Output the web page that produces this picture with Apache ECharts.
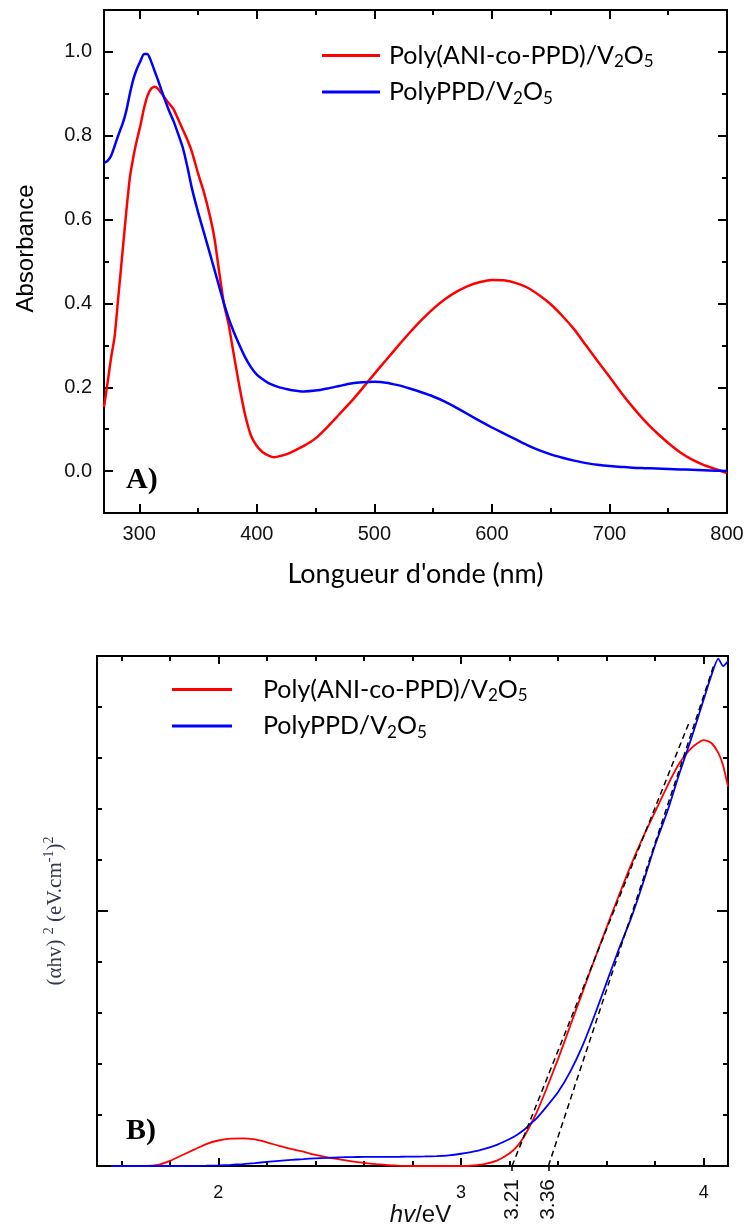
<!DOCTYPE html>
<html>
<head>
<meta charset="utf-8">
<title>Absorbance et Tauc</title>
<script src="https://cdn.jsdelivr.net/npm/echarts@6/dist/echarts.min.js"></script>
<style>
  html, body { margin: 0; padding: 0; background: #fff; }
  #chart { width: 747px; height: 1229px; }
</style>
</head>
<body>
<div id="chart"></div>
<script>
// A) spectres UV-vis
const wavelength = [
  270, 273, 276, 279, 282, 286, 289, 292, 295, 298,
  301, 304, 307, 310, 313, 316, 320, 325, 329, 333,
  337, 341, 345, 350, 355, 360, 364, 368, 372, 376,
  380, 385, 390, 395, 400, 405, 410, 415, 420, 425,
  430, 440, 450, 460, 470, 480, 490, 500, 510, 520,
  530, 540, 550, 560, 570, 580, 590, 600, 610, 620,
  630, 640, 650, 660, 670, 680, 690, 700, 710, 720,
  730, 740, 750, 760, 770, 780, 790, 800
]
const absCopolymer = [
  0.153, 0.21, 0.27, 0.32, 0.41, 0.53, 0.62, 0.70, 0.75, 0.79,
  0.825, 0.865, 0.895, 0.912, 0.917, 0.912, 0.897, 0.878, 0.864, 0.84,
  0.815, 0.79, 0.76, 0.71, 0.665, 0.61, 0.555, 0.475, 0.40, 0.35,
  0.285, 0.205, 0.135, 0.085, 0.06, 0.045, 0.037, 0.033, 0.036, 0.04,
  0.046, 0.06, 0.078, 0.105, 0.135, 0.165, 0.198, 0.232, 0.265, 0.298,
  0.33, 0.36, 0.387, 0.41, 0.428, 0.442, 0.451, 0.456, 0.455, 0.449,
  0.438, 0.42, 0.398, 0.37, 0.338, 0.30, 0.262, 0.225, 0.187, 0.152,
  0.12, 0.092, 0.067, 0.045, 0.028, 0.015, 0.005, -0.005
]
const absPolyPPD = [
  0.735, 0.74, 0.752, 0.775, 0.80, 0.83, 0.86, 0.90, 0.935, 0.96,
  0.978, 0.995, 0.995, 0.978, 0.955, 0.932, 0.90, 0.862, 0.836, 0.805,
  0.772, 0.725, 0.672, 0.618, 0.569, 0.52, 0.48, 0.44, 0.40, 0.365,
  0.335, 0.302, 0.272, 0.248, 0.23, 0.219, 0.21, 0.204, 0.199, 0.196,
  0.193, 0.19, 0.192, 0.197, 0.203, 0.209, 0.212, 0.213, 0.211, 0.205,
  0.197, 0.188, 0.178, 0.166, 0.151, 0.135, 0.119, 0.104, 0.09, 0.076,
  0.062, 0.05, 0.04, 0.032, 0.025, 0.019, 0.015, 0.012, 0.01, 0.008,
  0.007, 0.006, 0.005, 0.004, 0.003, 0.002, 0.001, 0
]
const wlTicks = [300, 400, 500, 600, 700, 800]
const wlMinorTicks = [350, 450, 550, 650, 750]
const absTicks = [0, 0.2, 0.4, 0.6, 0.8, 1.0]
const absMinorTicks = [0.1, 0.3, 0.5, 0.7, 0.9]

// B) tracé de Tauc
const energy = [
  1.56, 1.6, 1.7, 1.75, 1.8, 1.85, 1.9, 1.95, 2.0, 2.05,
  2.1, 2.15, 2.2, 2.25, 2.3, 2.35, 2.4, 2.45, 2.5, 2.55,
  2.6, 2.65, 2.7, 2.75, 2.8, 2.85, 2.9, 2.95, 3.0, 3.05,
  3.1, 3.15, 3.2, 3.23, 3.26, 3.28, 3.31, 3.35, 3.4, 3.45,
  3.5, 3.55, 3.6, 3.65, 3.7, 3.75, 3.8, 3.85, 3.9, 3.95,
  4.0, 4.03, 4.06, 4.08, 4.1
]
const taucCopolymer = [
  0, 0, 0, 0.02, 0.1, 0.21, 0.32, 0.43, 0.5, 0.535,
  0.54, 0.52, 0.465, 0.395, 0.335, 0.28, 0.22, 0.17, 0.13, 0.09,
  0.06, 0.035, 0.015, 0.003, 0, 0, 0, 0, 0, 0.01,
  0.04, 0.11, 0.25, 0.38, 0.58, 0.75, 1.03, 1.49, 2.1, 2.75,
  3.4, 4.05, 4.68, 5.3, 5.9, 6.45, 6.95, 7.45, 7.9, 8.2,
  8.35, 8.3, 8.1, 7.85, 7.44
]
const taucPolyPPD = [
  0, 0, 0, 0, 0, 0, 0.002, 0.006, 0.012, 0.022,
  0.038, 0.058, 0.08, 0.1, 0.12, 0.135, 0.15, 0.16, 0.17, 0.175,
  0.178, 0.18, 0.18, 0.181, 0.183, 0.187, 0.195, 0.21, 0.24, 0.28,
  0.34, 0.42, 0.53, 0.61, 0.71, 0.8, 0.93, 1.15, 1.45, 1.85,
  2.35, 2.95, 3.6, 4.25, 4.85, 5.55, 6.3, 6.95, 7.7, 8.4,
  9.15, 9.6, 9.95, 9.8, 9.9
]
// tangentes (gap optique)
const tangentCopolymer = [[3.21, 0], [3.94, 8.7]]
const tangentPolyPPD = [[3.36, 0], [4.045, 9.87]]
const gapValues = [3.21, 3.36]
const eTicks = [2, 3, 4]
const eMinorTicks = [1.6, 1.8, 2.2, 2.4, 2.6, 2.8, 3.2, 3.4, 3.6, 3.8]
const taucTicks = [5]
const taucMinorTicks = [1, 2, 3, 4, 6, 7, 8, 9]

const NAME_CO = 'Poly(ANI-co-PPD)/V2O5'
const NAME_PPD = 'PolyPPD/V2O5'
const RED = '#ff0000'
const BLUE = '#0000ff'

const legendText = {
  [NAME_CO]: '{t|Poly(ANI-co-PPD)/V}{s|2}{t|O}{s|5}',
  [NAME_PPD]: '{t|PolyPPD/V}{s|2}{t|O}{s|5}'
}
const legendRich = {
  t: { fontFamily: 'Lato', fontSize: 25, lineHeight: 30, color: '#000' },
  s: { fontFamily: 'Lato', fontSize: 17, lineHeight: 17, color: '#000', verticalAlign: 'bottom' }
}

const zip = (xs, ys) => xs.map((x, i) => [x, ys[i]])

// axe sans ligne, seulement des graduations (le cadre vient de la grille)
function tickAxis(grid, pos, min, max, ticks, len, label) {
  return {
    type: 'value',
    gridIndex: grid,
    position: pos,
    min: min,
    max: max,
    axisLine: { show: false, onZero: false },
    splitLine: { show: false },
    axisTick: {
      show: true,
      inside: true,
      length: len,
      customValues: ticks,
      lineStyle: { color: '#000', width: 2 }
    },
    axisLabel: label || { show: false }
  }
}

const labelA = {
  show: true,
  fontFamily: 'Liberation Sans',
  fontSize: 20,
  color: '#111'
}

const xTop = tickAxis(0, 'bottom', 270, 800, wlTicks, 9,
  Object.assign({ customValues: wlTicks, margin: 11 }, labelA))
xTop.name = "Longueur d'onde (nm)"
xTop.nameLocation = 'middle'
xTop.nameGap = 48
xTop.nameTextStyle = { fontFamily: 'Lato', fontSize: 27, color: '#000' }

const yTop = tickAxis(0, 'left', -0.1, 1.1, absTicks, 9,
  Object.assign({ customValues: absTicks, margin: 12, formatter: v => v.toFixed(1) }, labelA))
yTop.name = 'Absorbance'
yTop.nameLocation = 'middle'
yTop.nameGap = 66
yTop.nameTextStyle = { fontFamily: 'Liberation Sans', fontSize: 24, color: '#000', padding: [0, 0, 0, 26] }

const xBot = tickAxis(1, 'bottom', 1.5, 4.1, eTicks, 8,
  { show: true, customValues: eTicks, margin: 18, fontFamily: 'Liberation Sans', fontSize: 18, color: '#111' })
xBot.name = '{i|hv}{n|/eV}'
xBot.nameLocation = 'middle'
xBot.nameGap = 34
xBot.nameTextStyle = {
  padding: [0, 0, 0, 16],
  rich: {
    i: { fontFamily: 'Liberation Sans', fontStyle: 'italic', fontSize: 24, color: '#111' },
    n: { fontFamily: 'Liberation Sans', fontSize: 24, color: '#111' }
  }
}

const xGap = tickAxis(1, 'bottom', 1.5, 4.1, gapValues, 5,
  { show: true, customValues: gapValues, rotate: 90, margin: 13, fontFamily: 'Liberation Sans', fontSize: 21, color: '#111', formatter: v => v.toFixed(2) })
xGap.axisTick.inside = false
xGap.axisTick.lineStyle.width = 1.5

const yBot = tickAxis(1, 'left', 0, 10, taucTicks, 11)
yBot.name = '{t|(αhv) }{s|2}{t| (eV.cm}{s|-1}{t|)}{s|2}'
yBot.nameLocation = 'middle'
yBot.nameGap = 29
yBot.nameTextStyle = {
  rich: {
    t: { fontFamily: 'Liberation Serif', fontSize: 21, lineHeight: 26, color: '#33374f' },
    s: { fontFamily: 'Liberation Serif', fontSize: 14, lineHeight: 14, color: '#33374f', verticalAlign: 'top' }
  }
}

const option = {
  animation: false,
  backgroundColor: '#fff',
  grid: [
    { left: 104, top: 10, width: 623, height: 503, show: true, borderColor: '#000', borderWidth: 2 },
    { left: 97, top: 656, width: 631, height: 510, show: true, borderColor: '#000', borderWidth: 2 }
  ],
  xAxis: [
    xTop,
    tickAxis(0, 'bottom', 270, 800, wlMinorTicks, 5),
    tickAxis(0, 'top', 270, 800, wlTicks, 9),
    tickAxis(0, 'top', 270, 800, wlMinorTicks, 5),
    xBot,
    tickAxis(1, 'bottom', 1.5, 4.1, eMinorTicks, 5),
    xGap,
    tickAxis(1, 'top', 1.5, 4.1, eTicks, 8),
    tickAxis(1, 'top', 1.5, 4.1, eMinorTicks, 5)
  ],
  yAxis: [
    yTop,
    tickAxis(0, 'left', -0.1, 1.1, absMinorTicks, 5),
    tickAxis(0, 'right', -0.1, 1.1, absTicks, 9),
    tickAxis(0, 'right', -0.1, 1.1, absMinorTicks, 5),
    yBot,
    tickAxis(1, 'left', 0, 10, taucMinorTicks, 5),
    tickAxis(1, 'right', 0, 10, taucTicks, 11),
    tickAxis(1, 'right', 0, 10, taucMinorTicks, 5)
  ],
  legend: [
    {
      data: [NAME_CO, NAME_PPD],
      orient: 'vertical',
      left: 322,
      top: 43,
      padding: 0,
      itemGap: 9,
      itemWidth: 58,
      itemHeight: 3,
      icon: 'rect',
      selectedMode: false,
      formatter: n => legendText[n],
      textStyle: { padding: [0, 0, 0, 4], rich: legendRich }
    },
    {
      data: [NAME_CO, NAME_PPD],
      orient: 'vertical',
      left: 172,
      top: 677,
      padding: 0,
      itemGap: 9,
      itemWidth: 60,
      itemHeight: 3,
      icon: 'rect',
      selectedMode: false,
      formatter: n => legendText[n],
      textStyle: { padding: [0, 0, 0, 26], rich: legendRich }
    }
  ],
  graphic: [
    { type: 'text', left: 126, top: 465, style: { text: 'A)', font: 'bold 30px "Liberation Serif"', fill: '#000' } },
    { type: 'text', left: 126, top: 1116, style: { text: 'B)', font: 'bold 30px "Liberation Serif"', fill: '#000' } }
  ],
  series: [
    {
      name: NAME_CO, type: 'line', xAxisIndex: 0, yAxisIndex: 0,
      data: zip(wavelength, absCopolymer), showSymbol: false, smooth: 0.2,
      lineStyle: { color: RED, width: 2.5 }, itemStyle: { color: RED }
    },
    {
      name: NAME_PPD, type: 'line', xAxisIndex: 0, yAxisIndex: 0,
      data: zip(wavelength, absPolyPPD), showSymbol: false, smooth: 0.2,
      lineStyle: { color: BLUE, width: 2.5 }, itemStyle: { color: BLUE }
    },
    {
      name: NAME_CO, type: 'line', xAxisIndex: 4, yAxisIndex: 4,
      data: zip(energy, taucCopolymer), showSymbol: false, smooth: 0.2,
      lineStyle: { color: RED, width: 1.8 }, itemStyle: { color: RED }
    },
    {
      name: NAME_PPD, type: 'line', xAxisIndex: 4, yAxisIndex: 4,
      data: zip(energy, taucPolyPPD), showSymbol: false, smooth: 0.2,
      lineStyle: { color: BLUE, width: 1.8 }, itemStyle: { color: BLUE }
    },
    {
      name: 'tangente 1', type: 'line', xAxisIndex: 4, yAxisIndex: 4,
      data: tangentCopolymer, showSymbol: false, silent: true,
      lineStyle: { color: '#000', width: 1.5, type: [6, 4] }
    },
    {
      name: 'tangente 2', type: 'line', xAxisIndex: 4, yAxisIndex: 4,
      data: tangentPolyPPD, showSymbol: false, silent: true,
      lineStyle: { color: '#000', width: 1.5, type: [6, 4] }
    }
  ]
}

const chart = echarts.init(document.getElementById('chart'), null, { renderer: 'canvas' })
chart.setOption(option)
</script>
</body>
</html>
